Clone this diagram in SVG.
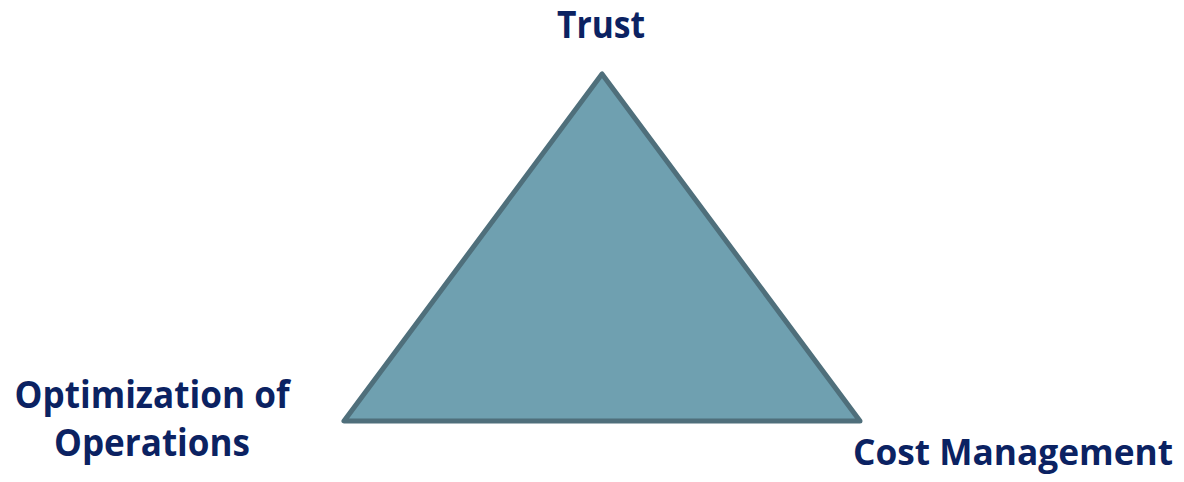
<svg xmlns="http://www.w3.org/2000/svg" width="1184" height="482" viewBox="0 0 1184 482">
<style>
.lbl{font-family:"Open Sans","Noto Sans","Liberation Sans",sans-serif;font-weight:bold;font-size:37px;fill:#0b2262}
.tri{fill:#6fa0b0;stroke:#4f6f7b;stroke-width:5;stroke-linejoin:round}
</style>
<rect width="1184" height="482" fill="#ffffff"/>
<g id="triangle"><polygon class="tri" points="602,74 344,421 860,421"/></g>
<g id="trust"><text class="lbl" x="601" y="38" text-anchor="middle" textLength="88" lengthAdjust="spacingAndGlyphs">Trust</text></g>
<g id="optimization"><text class="lbl" x="152" y="408" text-anchor="middle" textLength="275" lengthAdjust="spacingAndGlyphs">Optimization of</text><text class="lbl" x="152" y="456" text-anchor="middle" textLength="196" lengthAdjust="spacingAndGlyphs">Operations</text></g>
<g id="cost"><text class="lbl" x="1013" y="465" text-anchor="middle" style="font-size:35px" textLength="320" lengthAdjust="spacingAndGlyphs">Cost Management</text></g>
<g id="connectors"></g>
</svg>
